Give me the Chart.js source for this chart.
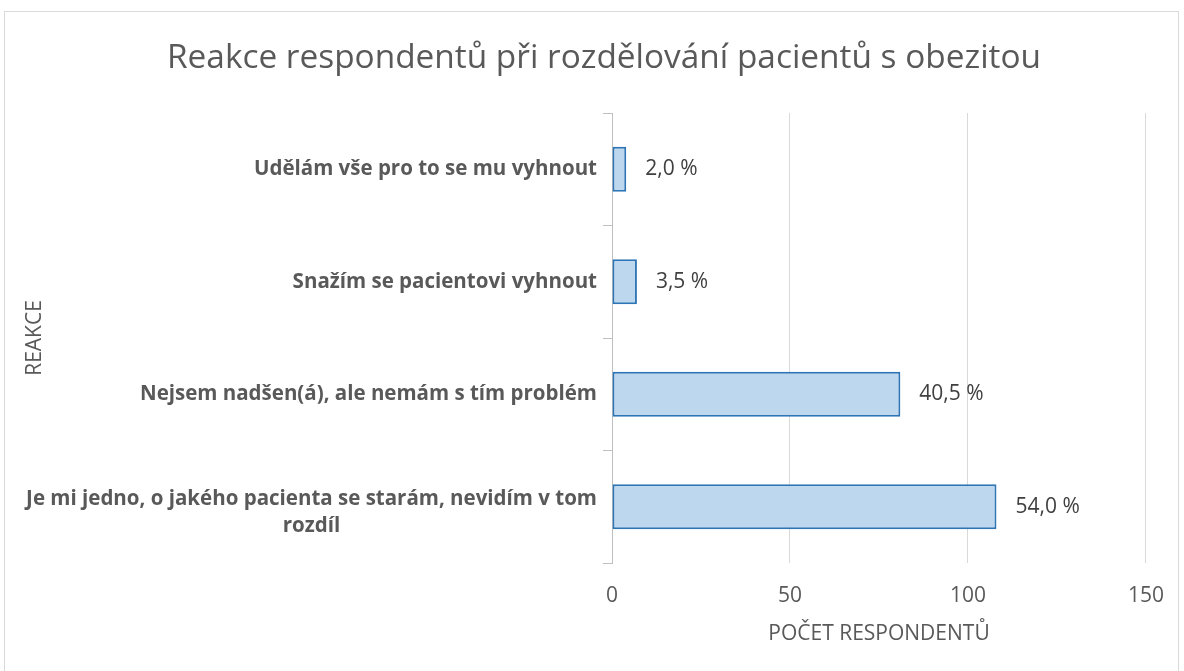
<!DOCTYPE html>
<html>
<head>
<meta charset="utf-8">
<script src="https://cdn.jsdelivr.net/npm/chart.js@4.4.1/dist/chart.umd.min.js"></script>
<style>
  html, body { margin: 0; padding: 0; background: #fff; }
  #frame { position: absolute; left: 4px; top: 11px; width: 1175px; height: 670px; border: 1px solid #d9d9d9; box-sizing: border-box; }
  #wrap { position: absolute; left: 0; top: 0; width: 1184px; height: 671px; }
</style>
</head>
<body>
<div id="frame"></div>
<div id="wrap"><canvas id="chart"></canvas></div>
<script>
// data
const chartTitle = 'Reakce respondentů při rozdělování pacientů s obezitou';
const categories = [
    'Udělám vše pro to se mu vyhnout',
    'Snažím se pacientovi vyhnout',
    'Nejsem nadšen(á), ale nemám s tím problém',
    ['Je mi jedno, o jakého pacienta se starám, nevidím v tom', 'rozdíl']
];
const respondents = [4, 7, 81, 108];
const percents = [2.0, 3.5, 40.5, 54.0];
const xTicks = [0, 50, 100, 150];

const FONT = "'Open Sans', 'DejaVu Sans', sans-serif";
const TEXT = '#595959';

function pctText(v) {
    return v.toFixed(1).replace('.', ',') + ' %';
}

// title sits a bit right of the canvas centre, like in the original
const titlePlugin = {
    id: 'offsetTitle',
    afterDraw(chart) {
        const ctx = chart.ctx;
        ctx.save();
        ctx.font = '33.4px ' + FONT;
        ctx.fillStyle = TEXT;
        ctx.textAlign = 'center';
        ctx.textBaseline = 'middle';
        ctx.fillText(chartTitle, 604, 58);
        ctx.restore();
    }
};

// category labels: right aligned, wrapped lines centered under each other
const yLabelsPlugin = {
    id: 'yLabels',
    afterDraw(chart) {
        const scale = chart.scales.y;
        const ctx = chart.ctx;
        const right = scale.right - 9 - 6;
        ctx.save();
        ctx.font = 'bold 20.5px ' + FONT;
        ctx.fillStyle = TEXT;
        ctx.textBaseline = 'middle';
        const lh = 27;
        categories.forEach(function (label, i) {
            const y = scale.getPixelForTick(i);
            const lines = Array.isArray(label) ? label : [label];
            const widest = Math.max.apply(null, lines.map(l => ctx.measureText(l).width));
            const cx = right - widest / 2;
            const y0 = y - (lines.length - 1) * lh / 2 + (lines.length > 1 ? 6 : 0);
            ctx.textAlign = lines.length > 1 ? 'center' : 'right';
            lines.forEach(function (line, j) {
                ctx.fillText(line, lines.length > 1 ? cx : right, y0 + j * lh);
            });
        });
        ctx.restore();
    }
};

// value labels at the bar ends
const valueLabelsPlugin = {
    id: 'valueLabels',
    afterDatasetsDraw(chart) {
        const ctx = chart.ctx;
        const meta = chart.getDatasetMeta(0);
        ctx.save();
        ctx.font = '21px ' + FONT;
        ctx.fillStyle = '#404040';
        ctx.textAlign = 'left';
        ctx.textBaseline = 'middle';
        meta.data.forEach(function (bar, i) {
            ctx.fillText(pctText(percents[i]), bar.x + 19, bar.y);
        });
        ctx.restore();
    }
};

const ctx = document.getElementById('chart').getContext('2d');
const chart = new Chart(ctx, {
    type: 'bar',
    data: {
        labels: categories,
        datasets: [{
            data: respondents,
            backgroundColor: '#bdd7ee',
            borderColor: '#2e75b6',
            borderWidth: 2,
            borderSkipped: false,
            categoryPercentage: 1,
            barPercentage: 0.4
        }]
    },
    options: {
        indexAxis: 'y',
        responsive: true,
        maintainAspectRatio: false,
        animation: false,
        layout: {
            padding: { left: 0, right: 38, top: 113, bottom: 0 }
        },
        plugins: {
            legend: { display: false },
            tooltip: { enabled: false },
            title: { display: false }
        },
        scales: {
            x: {
                min: 0,
                max: 150,
                afterBuildTicks: function (scale) {
                    scale.ticks = xTicks.map(v => ({ value: v }));
                },
                afterFit: function (scale) { scale.height = 108; },
                grid: { color: '#d9d9d9', lineWidth: 1, drawTicks: false },
                border: { display: false },
                ticks: {
                    color: TEXT,
                    padding: 20,
                    font: { family: FONT, size: 21 }
                },
                title: {
                    display: true,
                    text: 'POČET RESPONDENTŮ',
                    color: TEXT,
                    font: { family: FONT, size: 21 },
                    padding: { top: 0, bottom: 24 }
                }
            },
            y: {
                afterFit: function (scale) { scale.width = 612; },
                grid: {
                    drawOnChartArea: false,
                    drawTicks: true,
                    tickLength: 9,
                    color: '#bfbfbf',
                    offset: true
                },
                border: { display: true, color: '#bfbfbf' },
                ticks: {
                    color: 'rgba(0,0,0,0)',
                    padding: 6,
                    font: { family: FONT, size: 20, weight: 'bold' }
                },
                title: {
                    display: true,
                    text: 'REAKCE',
                    color: TEXT,
                    font: { family: FONT, size: 21 },
                    padding: { top: 22, bottom: 0 }
                }
            }
        }
    },
    plugins: [titlePlugin, yLabelsPlugin, valueLabelsPlugin]
});
</script>
</body>
</html>
